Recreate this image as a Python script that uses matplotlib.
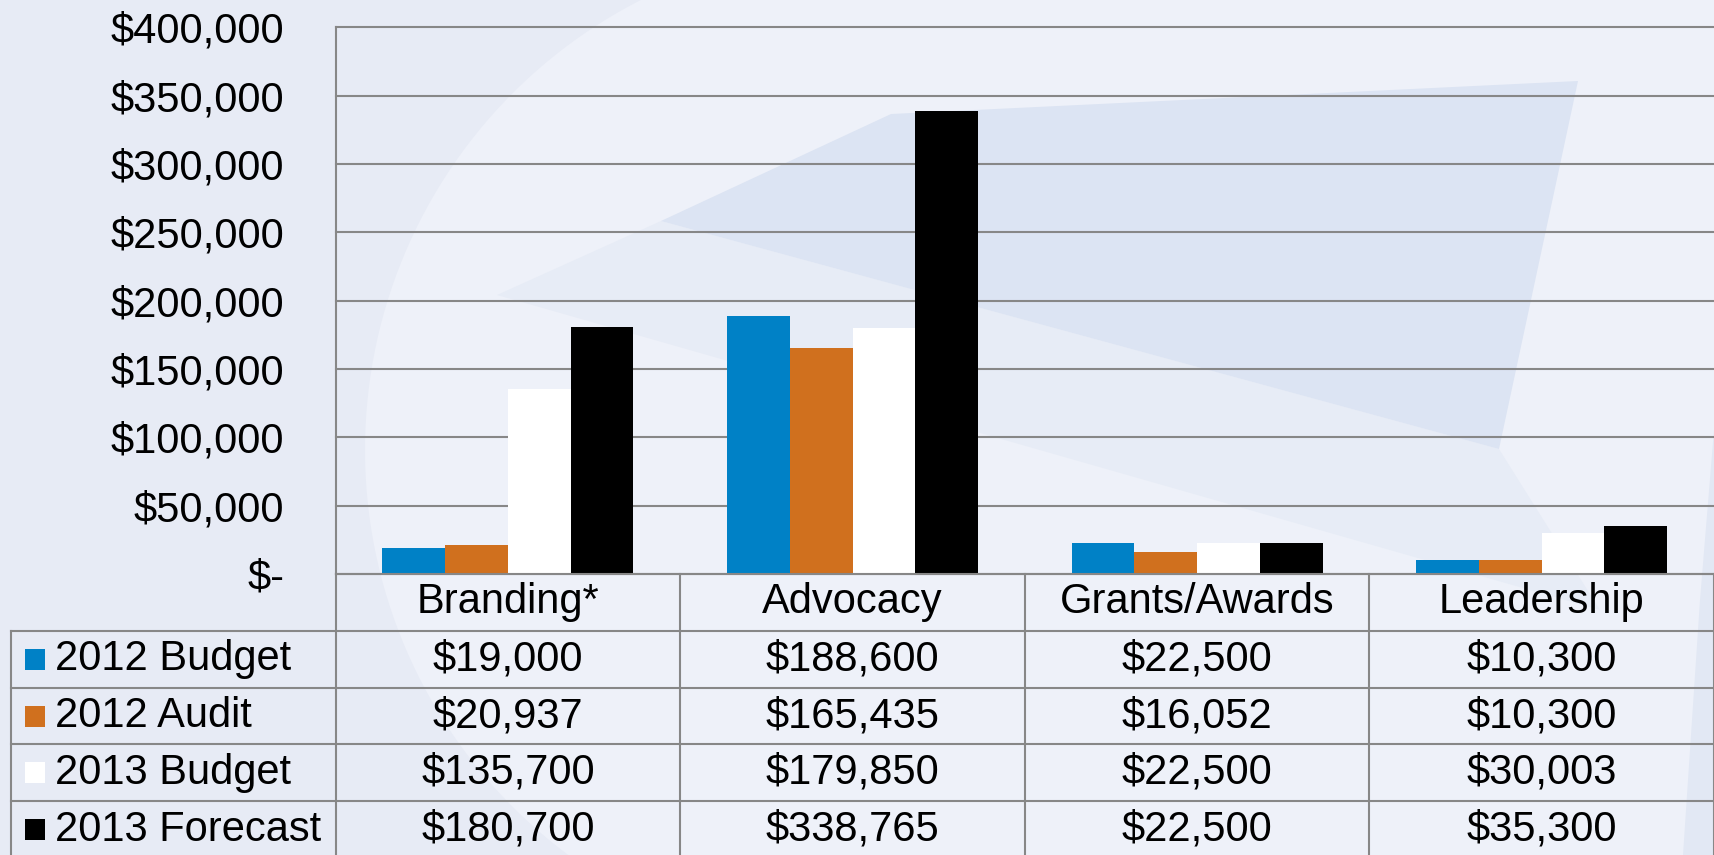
import numpy as np
import matplotlib
matplotlib.use('Agg')
import matplotlib.pyplot as plt
from matplotlib.patches import Polygon, Rectangle

categories = ['Branding*', 'Advocacy', 'Grants/Awards', 'Leadership']
series_names = ['2012 Budget', '2012 Audit', '2013 Budget', '2013 Forecast']
budget_2012 = [19000, 188600, 22500, 10300]
audit_2012 = [20937, 165435, 16052, 10300]
budget_2013 = [135700, 179850, 22500, 30003]
forecast_2013 = [180700, 338765, 22500, 35300]
series_colors = ['#0081c6', '#d0701e', '#ffffff', '#000000']
y_ticks = [0, 50000, 100000, 150000, 200000, 250000, 300000, 350000, 400000]
y_labels = ['$-'] + ['${:,}'.format(v) for v in y_ticks[1:]]

plt.rcParams['font.family'] = ['Liberation Sans', 'DejaVu Sans']
FS = 30
GRID = '#878787'

W, H = 1714, 855
fig = plt.figure(figsize=(W / 100, H / 100), dpi=100)
fig.patch.set_facecolor('#e7ebf5')

# background decoration (pixel coordinates, y down)
bg = fig.add_axes([0, 0, 1, 1], zorder=-10)
bg.set_xlim(0, W)
bg.set_ylim(H, 0)
bg.axis('off')
t = np.radians(np.linspace(243.2, 126.6, 80))
arc = np.column_stack([870 + 505 * np.cos(t), 450 + 505 * np.sin(t)])
light = np.vstack([arc, [[W, H], [W, 0]]])
bg.add_patch(Polygon(light, closed=True, color='#eef1f9', lw=0))
bg.add_patch(Polygon([[497, 295], [661, 221], [1499, 449], [1600, 610]],
                     closed=True, color='#e7ecf6', lw=0))
bg.add_patch(Polygon([[661, 221], [891, 114], [1578, 81], [1499, 449]],
                     closed=True, color='#dce4f3', lw=0))
bg.add_patch(Polygon([[W, 430], [1700, 600], [1683, H], [W, H]],
                     closed=True, color='#e2e8f4', lw=0))

# bar chart
left_px, top_px, zero_px = 335.6, 27.5, 574
ax = fig.add_axes([left_px / W, 1 - zero_px / H, 1 - left_px / W, (zero_px - top_px) / H])
ax.set_facecolor('none')
x = np.arange(len(categories))
w = 0.182
for i, (vals, c) in enumerate(zip([budget_2012, audit_2012, budget_2013, forecast_2013], series_colors)):
    ax.bar(x + (i - 1.5) * w, vals, w, color=c, zorder=3, lw=0)
ax.set_xlim(-0.5, 3.5)
ax.set_ylim(0, 400000)
ax.set_yticks(y_ticks)
ax.set_yticklabels(y_labels)
ax.set_xticks([])
ax.tick_params(axis='y', length=0, pad=37, labelsize=FS)
ax.yaxis.grid(True, color=GRID, lw=1.5)
for gl in ax.get_ygridlines():
    gl.set_clip_on(False)
ax.set_axisbelow(True)
for s in ['top', 'right', 'bottom']:
    ax.spines[s].set_visible(False)
ax.spines['left'].set_color(GRID)
ax.spines['left'].set_linewidth(1.5)

# data table under the chart
col_px = (W - left_px) / 4
row_px = 56.8
tax = fig.add_axes([left_px / W, 0, 1 - left_px / W, 1 - zero_px / H])
tax.set_facecolor('none')
tax.set_xlim(-0.5, 3.5)
tax.set_ylim((H - zero_px) / row_px, 0)
tax.axis('off')

leg_left = -0.5 - (left_px - 11) / col_px
ybot = (H - zero_px) / row_px
kw = dict(color=GRID, lw=1.5, clip_on=False)
for xv in [-0.5, 0.5, 1.5, 2.5, 3.5]:
    tax.plot([xv, xv], [0, ybot], **kw)
tax.plot([-0.5, 3.5], [0, 0], **kw)
for r in range(1, 5):
    tax.plot([leg_left, 3.5], [r, r], **kw)
tax.plot([leg_left, leg_left], [1, ybot], **kw)

for j, cat in enumerate(categories):
    tax.text(j, 0.5, cat, ha='center', va='center', fontsize=FS)

all_vals = [budget_2012, audit_2012, budget_2013, forecast_2013]
sq_x = -0.5 - (left_px - 24.5) / col_px
lab_x = -0.5 - (left_px - 55) / col_px
sq_w, sq_h = 21 / col_px, 21 / row_px
for r, (name, vals, c) in enumerate(zip(series_names, all_vals, series_colors)):
    yc = r + 1.5
    tax.add_patch(Rectangle((sq_x, yc - sq_h / 2), sq_w, sq_h, color=c, lw=0, clip_on=False))
    tax.text(lab_x, yc, name, ha='left', va='center', fontsize=FS, clip_on=False)
    for j, v in enumerate(vals):
        tax.text(j, yc, '${:,}'.format(v), ha='center', va='center', fontsize=FS)

fig.savefig('out.png', dpi=100, facecolor=fig.get_facecolor())
